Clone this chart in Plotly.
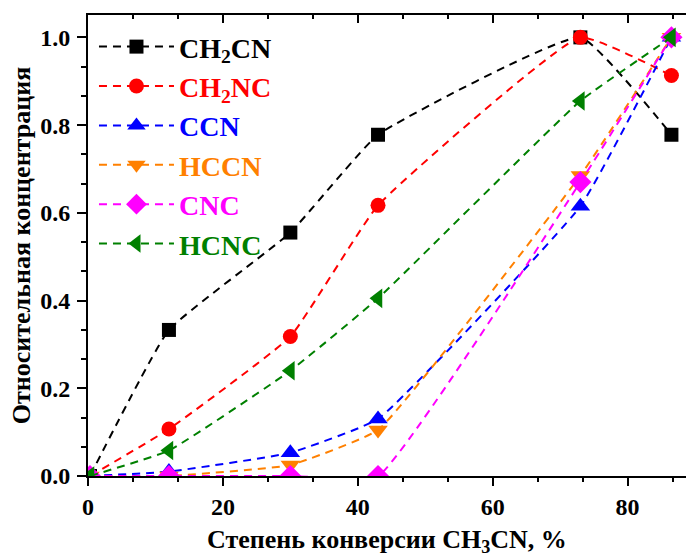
import plotly.graph_objects as go

conversion = [0.3, 12, 30, 43, 73, 86.5]
ch2cn = [0.0, 0.333, 0.555, 0.778, 1.0, 0.778]
ch2nc = [0.0, 0.107, 0.318, 0.617, 1.0, 0.913]
ccn = [0.0, 0.010, 0.053, 0.130, 0.615, 1.0]
hccn = [0.0, 0.0, 0.025, 0.105, 0.685, 1.0]
cnc = [0.0, 0.0, 0.0, 0.0, 0.670, 1.0]
hcnc = [0.0, 0.058, 0.240, 0.405, 0.855, 1.0]

x_title = "Степень конверсии CH<sub>3</sub>CN, %"
y_title = "Относительная концентрация"

series = [
    ("CH<sub>2</sub>CN", ch2cn, "black", "square", 14),
    ("CH<sub>2</sub>NC", ch2nc, "red", "circle", 15),
    ("CCN", ccn, "blue", "triangle-up", 17),
    ("HCCN", hccn, "#FF8000", "triangle-down", 17),
    ("CNC", cnc, "magenta", "diamond", 17),
    ("HCNC", hcnc, "green", "triangle-left", 17),
]

X_RANGE = [0, 88.66]
Y_RANGE = [0, 1.051]
FONT = "Liberation Serif"

fig = go.Figure()
for i, (name, vals, color, sym, size) in enumerate(series):
    fig.add_trace(go.Scatter(
        x=conversion, y=vals, mode="lines+markers",
        name=f'<span style="color:{color}">{name}</span>',
        legendgroup=f"g{i}",
        line=dict(color=color, width=2, dash="8px,6px", shape="spline", smoothing=0.35),
        marker=dict(symbol=sym, size=size, color=color, line=dict(width=0)),
    ))

# empty trace to activate the top (mirror) axis with inward ticks
fig.add_trace(go.Scatter(x=[], y=[], xaxis="x2", yaxis="y", showlegend=False, hoverinfo="skip"))

tickfont = dict(family=FONT, size=24, color="black", weight="bold")

fig.update_layout(
    width=686, height=557,
    margin=dict(l=88, r=0, t=15, b=81),
    plot_bgcolor="white", paper_bgcolor="white",
    xaxis=dict(
        range=X_RANGE, dtick=20, tick0=0, automargin=False,
        showline=True, linecolor="black", linewidth=2, mirror=False,
        ticks="outside", ticklen=8, tickwidth=2, tickcolor="black",
        minor=dict(dtick=20/3, ticks="outside", ticklen=4, tickwidth=2, tickcolor="black"),
        showgrid=False, zeroline=False, tickfont=tickfont, ticklabelstandoff=0,
    ),
    xaxis2=dict(
        range=X_RANGE, dtick=20, tick0=0, overlaying="x", side="top", anchor="y",
        automargin=False,
        showline=True, linecolor="black", linewidth=2,
        ticks="inside", ticklen=8, tickwidth=2, tickcolor="black",
        minor=dict(dtick=20/3, ticks="inside", ticklen=4, tickwidth=2, tickcolor="black"),
        showticklabels=False, showgrid=False, zeroline=False,
    ),
    yaxis=dict(
        range=Y_RANGE, dtick=0.2, tick0=0, tickformat=".1f", automargin=False,
        showline=True, linecolor="black", linewidth=2, mirror=False,
        ticks="outside", ticklen=9, tickwidth=2, tickcolor="black",
        minor=dict(dtick=0.2/3, ticks="outside", ticklen=5, tickwidth=2, tickcolor="black"),
        showgrid=False, zeroline=False, tickfont=tickfont, ticklabelstandoff=2,
        title=dict(text=y_title, standoff=2,
                   font=dict(family=FONT, size=26, color="black", weight="bold")),
    ),
    legend=dict(
        x=0.01, y=0.985, xanchor="left", yanchor="top",
        bgcolor="rgba(0,0,0,0)", tracegroupgap=0,
        font=dict(family=FONT, size=28, color="black", weight="bold"),
        itemwidth=75,
    ),
    annotations=[dict(
        text=x_title, xref="paper", yref="paper", x=0.5, y=-0.142,
        xanchor="center", yanchor="middle", showarrow=False,
        font=dict(family=FONT, size=26, color="black", weight="bold"),
    )],
)

fig.write_html("out.html")
